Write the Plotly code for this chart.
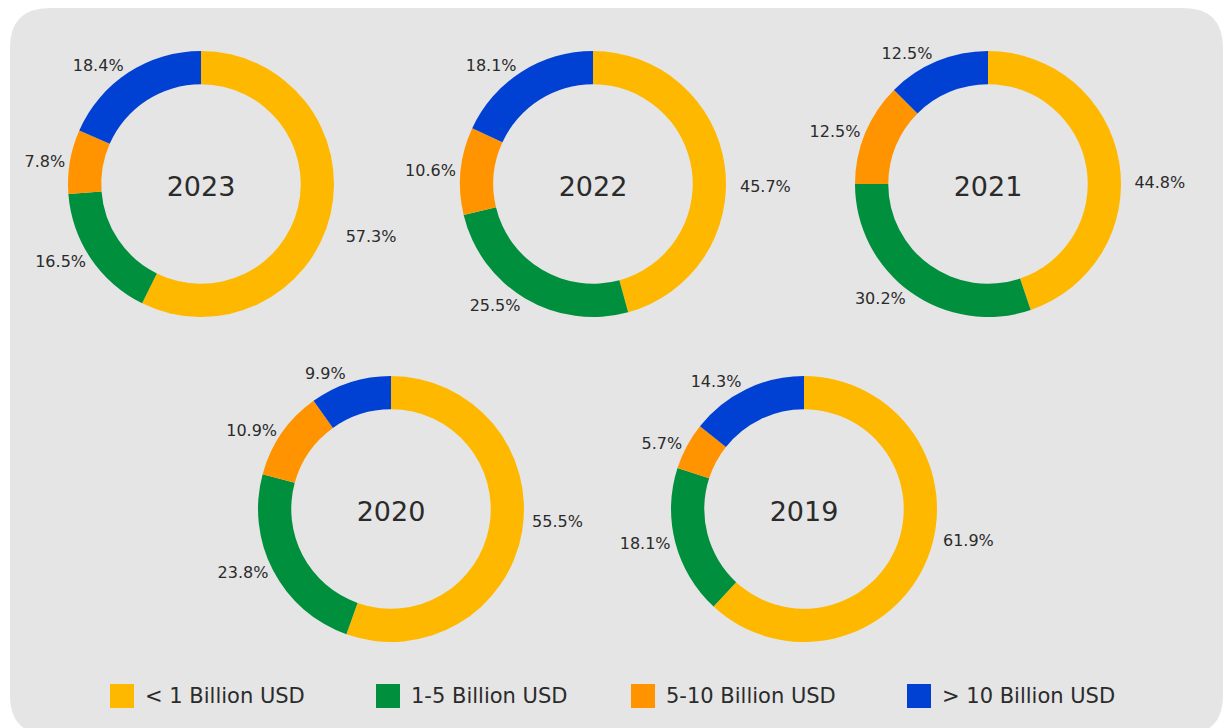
import plotly.graph_objects as go

categories = ["< 1 Billion USD", "1-5 Billion USD", "5-10 Billion USD", "> 10 Billion USD"]
colors = ["#FFB800", "#008F3C", "#FF9400", "#0041D4"]

years = ["2023", "2022", "2021", "2020", "2019"]
share_2023 = [57.3, 16.5, 7.8, 18.4]
share_2022 = [45.7, 25.5, 10.6, 18.1]
share_2021 = [44.8, 30.2, 12.5, 12.5]
share_2020 = [55.5, 23.8, 10.9, 9.9]
share_2019 = [61.9, 18.1, 5.7, 14.3]
shares = [share_2023, share_2022, share_2021, share_2020, share_2019]

W, H = 1223, 728
R = 133
centers = [(201, 184), (593, 184), (988, 184), (391, 509), (804, 509)]
# label nudges for the first slice (blank lines above>0 / below<0)
first_label_nudge = [2, 2, 2, -1, -2]

FONT = "Verdana, DejaVu Sans, sans-serif"
TXT = "#2b2b2b"
NB = "\u00a0"

fig = go.Figure()
for yr, vals, (cx, cy), nudge in zip(years, shares, centers, first_label_nudge):
    base = "%{value:.1f}%"
    if nudge > 0:
        first = (NB + "<br>") * nudge + base
    elif nudge < 0:
        first = base + ("<br>" + NB) * (-nudge)
    else:
        first = base
    templates = [first] + [base] * (len(vals) - 1)
    fig.add_trace(go.Pie(
        labels=categories, values=vals, sort=False, direction="clockwise", rotation=0,
        hole=0.75, marker=dict(colors=colors, line=dict(width=0)),
        textposition="outside", texttemplate=templates,
        textfont=dict(size=16, color=TXT, family=FONT),
        title=dict(text=yr, position="middle center", font=dict(size=27, color=TXT, family=FONT)),
        domain=dict(x=[(cx - R) / W, (cx + R) / W], y=[1 - (cy + R) / H, 1 - (cy - R) / H]),
        showlegend=False, hoverinfo="label+percent",
    ))

# rounded background panel
x0, x1, y0, y1, r = 10, 1223, 8, 735, 40
def px(x):
    return x / W
def py(y):
    return 1 - y / H
path = (f"M {px(x0 + r)} {py(y0)} L {px(x1 - r)} {py(y0)} Q {px(x1)} {py(y0)} {px(x1)} {py(y0 + r)} "
        f"L {px(x1)} {py(y1 - r)} Q {px(x1)} {py(y1)} {px(x1 - r)} {py(y1)} "
        f"L {px(x0 + r)} {py(y1)} Q {px(x0)} {py(y1)} {px(x0)} {py(y1 - r)} "
        f"L {px(x0)} {py(y0 + r)} Q {px(x0)} {py(y0)} {px(x0 + r)} {py(y0)} Z")
shapes = [dict(type="path", path=path, xref="paper", yref="paper", fillcolor="#e5e5e5",
               line=dict(width=0), layer="below")]

# custom legend
legend_sq_x = [110, 376, 631, 907]
legend_y = 696
sq = 24
annotations = []
for cat, col, lx in zip(categories, colors, legend_sq_x):
    shapes.append(dict(type="rect", xref="paper", yref="paper",
                       x0=px(lx), x1=px(lx + sq), y0=py(legend_y + sq / 2), y1=py(legend_y - sq / 2),
                       fillcolor=col, line=dict(width=0)))
    annotations.append(dict(text=cat, x=px(lx + 33), y=py(legend_y), xref="paper", yref="paper",
                            xanchor="left", yanchor="middle", showarrow=False,
                            font=dict(size=21, color=TXT, family=FONT)))

fig.update_layout(
    width=W, height=H, margin=dict(l=0, r=0, t=0, b=0),
    paper_bgcolor="white", plot_bgcolor="rgba(0,0,0,0)",
    font=dict(family=FONT, color=TXT),
    shapes=shapes, annotations=annotations, showlegend=False,
)

fig.write_html("out.html", config={"displayModeBar": False},
               post_script="document.body.style.margin='0';document.body.style.overflow='hidden';")
